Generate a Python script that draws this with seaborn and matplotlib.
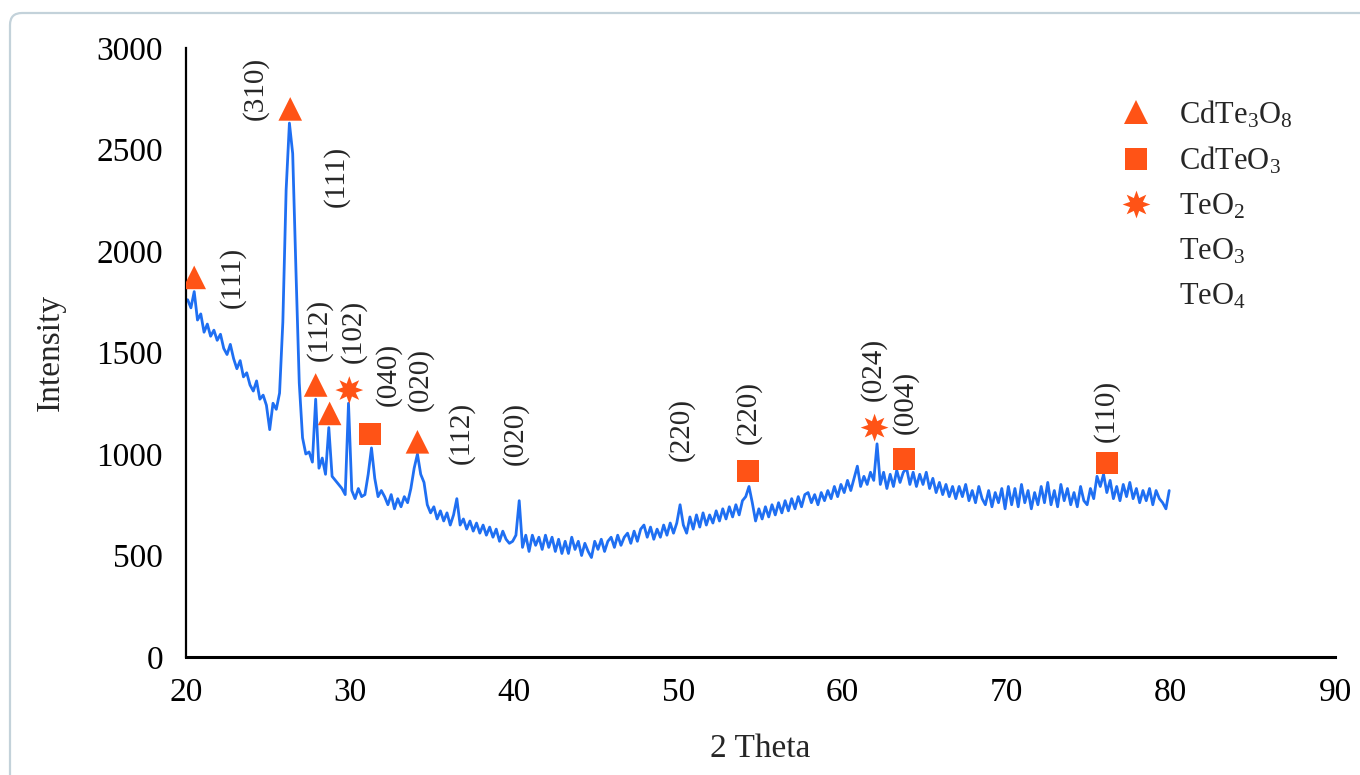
import numpy as np
import matplotlib
matplotlib.use("Agg")
import matplotlib.pyplot as plt
from matplotlib.lines import Line2D
from matplotlib.patches import FancyBboxPatch
import seaborn as sns

# XRD scan (2theta 20.1 .. 79.9, 0.2 deg step)
intensity = [
    1760, 1720, 1800, 1660, 1690,
    1600, 1640, 1580, 1610, 1560,
    1590, 1520, 1490, 1540, 1470,
    1420, 1460, 1380, 1400, 1340,
    1310, 1360, 1270, 1290, 1240,
    1120, 1250, 1220, 1300, 1650,
    2300, 2630, 2480, 1900, 1350,
    1080, 1000, 1010, 960, 1270,
    930, 980, 900, 1130, 890,
    870, 850, 830, 800, 1250,
    820, 780, 830, 790, 800,
    900, 1030, 880, 790, 820,
    790, 750, 800, 730, 780,
    740, 790, 760, 830, 930,
    1000, 900, 860, 750, 710,
    740, 680, 720, 670, 710,
    650, 700, 780, 650, 680,
    630, 670, 620, 660, 610,
    650, 600, 640, 590, 630,
    570, 620, 580, 560, 570,
    600, 770, 540, 600, 520,
    600, 550, 590, 530, 600,
    540, 590, 520, 580, 510,
    570, 510, 590, 530, 570,
    500, 560, 520, 490, 570,
    530, 580, 520, 570, 590,
    540, 600, 550, 590, 610,
    560, 620, 570, 630, 650,
    590, 640, 580, 630, 590,
    650, 600, 660, 610, 660,
    750, 650, 610, 690, 630,
    700, 640, 710, 650, 700,
    660, 720, 670, 730, 680,
    740, 690, 750, 700, 770,
    790, 840, 760, 670, 730,
    680, 740, 690, 750, 700,
    760, 710, 770, 720, 780,
    730, 790, 740, 800, 810,
    760, 800, 750, 810, 770,
    820, 780, 840, 790, 850,
    810, 870, 820, 880, 940,
    840, 890, 850, 910, 870,
    1050, 850, 910, 830, 900,
    840, 920, 860, 910, 930,
    850, 910, 840, 900, 850,
    910, 830, 880, 810, 860,
    800, 850, 790, 840, 780,
    840, 790, 850, 770, 820,
    760, 840, 780, 750, 820,
    740, 810, 760, 830, 730,
    840, 750, 830, 740, 850,
    760, 820, 730, 810, 750,
    840, 760, 860, 750, 820,
    740, 850, 770, 830, 750,
    810, 740, 840, 770, 750,
    830, 780, 890, 840, 900,
    810, 870, 780, 840, 770,
    850, 790, 860, 780, 830,
    760, 820, 770, 830, 750,
    820, 780, 760, 730, 820,
]
two_theta = np.round(20.1 + 0.2 * np.arange(len(intensity)), 1)

# phase markers
cdte3o8_x = [20.5, 26.35, 27.9, 28.75, 34.1]
cdte3o8_y = [1870, 2700, 1340, 1200, 1060]
cdteo3_x = [31.2, 54.25, 63.75, 76.1]
cdteo3_y = [1100, 915, 975, 955]
teo2_x = [29.95, 61.95]
teo2_y = [1315, 1130]

# hkl labels
hkl_labels = ["(310)", "(111)", "(111)", "(112)", "(102)", "(040)", "(020)",
              "(112)", "(020)", "(220)", "(220)", "(024)", "(004)", "(110)"]
hkl_x = [24.2, 29.15, 22.8, 28.1, 30.2, 32.35, 34.3,
         36.8, 40.05, 50.2, 54.25, 61.85, 63.85, 76.05]
hkl_y = [2800, 2365, 1870, 1610, 1605, 1390, 1365,
         1105, 1100, 1120, 1205, 1415, 1255, 1210]

legend_labels = ["CdTe$_3$O$_8$", "CdTeO$_3$", "TeO$_2$", "TeO$_3$", "TeO$_4$"]

sns.set_style("white")
plt.rcParams["font.family"] = ["Liberation Serif", "DejaVu Serif"]
plt.rcParams["mathtext.fontset"] = "custom"
plt.rcParams["mathtext.rm"] = "Liberation Serif"
plt.rcParams["mathtext.it"] = "Liberation Serif:italic"

blue = "#1f6ff2"
orange = "#ff5316"
star = (8, 1, 0)

fig = plt.figure(figsize=(13.6, 7.75), dpi=100)
ax = fig.add_axes([186 / 1360, 1 - 657 / 775, (1335 - 186) / 1360, (657 - 48) / 775])

sns.lineplot(x=two_theta, y=intensity, color=blue, lw=2.0, ax=ax, zorder=2)
sns.scatterplot(x=cdte3o8_x, y=cdte3o8_y, marker="^", s=17 ** 2, color=orange,
                edgecolor="none", ax=ax, zorder=3)
sns.scatterplot(x=cdteo3_x, y=cdteo3_y, marker="s", s=16 ** 2, color=orange,
                edgecolor="none", ax=ax, zorder=3)
sns.scatterplot(x=teo2_x, y=teo2_y, marker=star, s=20 ** 2, color=orange,
                edgecolor="none", ax=ax, zorder=3)

for lab, xx, yy in zip(hkl_labels, hkl_x, hkl_y):
    ax.text(xx, yy, lab, rotation=90, ha="center", va="center", fontsize=21)

ax.set_xlim(20, 90)
ax.set_ylim(0, 3000)
ax.set_xticks(range(20, 91, 10))
ax.set_yticks(range(0, 3001, 500))
ax.tick_params(direction="in", length=9, width=1.5, labelsize=24, colors="black")
ax.tick_params(axis="y", pad=16.5)
ax.tick_params(axis="x", pad=15)
ax.set_xlabel("2 Theta", fontsize=24, labelpad=18)
ax.set_ylabel("Intensity", fontsize=24, labelpad=22)
sns.despine(ax=ax)
ax.spines["left"].set_linewidth(1.6)
ax.spines["bottom"].set_linewidth(2.2)
ax.spines["left"].set_color("black")
ax.spines["bottom"].set_color("black")

handles = [
    Line2D([], [], ls="none", marker="^", markersize=17, color=orange, markeredgewidth=0),
    Line2D([], [], ls="none", marker="s", markersize=16, color=orange, markeredgewidth=0),
    Line2D([], [], ls="none", marker=star, markersize=20, color=orange, markeredgewidth=0),
    Line2D([], [], ls="none", marker="none"),
    Line2D([], [], ls="none", marker="none"),
]
fig.legend(handles, legend_labels, loc="upper left",
           bbox_to_anchor=(1090 / 1360, 1 - 71 / 775), frameon=False,
           fontsize=22, handletextpad=0.8, labelspacing=0.5, handlelength=1.2)

border = FancyBboxPatch((0.10, -0.5), 14.0, 7.75 - 0.13 + 0.5,
                        boxstyle="round,pad=0,rounding_size=0.12",
                        transform=fig.dpi_scale_trans, fill=False,
                        edgecolor="#c3d2da", lw=1.6)
fig.patches.append(border)

fig.savefig("out.png", dpi=100)
